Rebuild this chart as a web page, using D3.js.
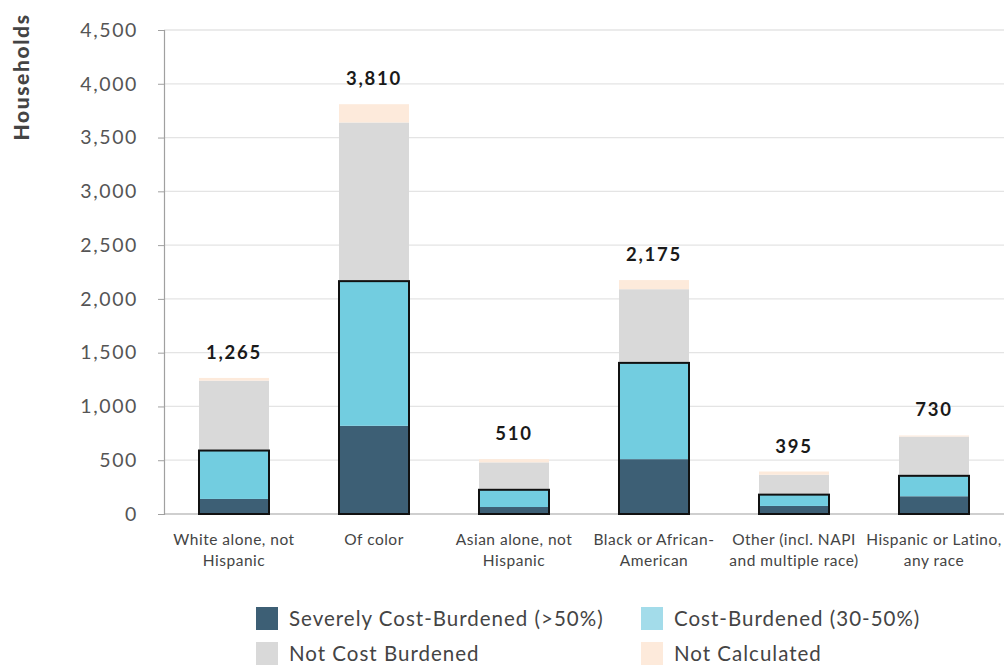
<!DOCTYPE html>
<html>
<head>
<meta charset="utf-8">
<script src="https://cdn.jsdelivr.net/npm/d3@7"></script>
<style>
  html, body { margin: 0; padding: 0; background: #fff; }
  svg { display: block; font-family: "Lato", "Noto Sans", sans-serif; }
</style>
</head>
<body>
<svg id="chart" width="1007" height="669"></svg>
<script>
// Household cost burden by race / ethnicity
const categories = [
  ["White alone, not", "Hispanic"],
  ["Of color"],
  ["Asian alone, not", "Hispanic"],
  ["Black or African-", "American"],
  ["Other (incl. NAPI", "and multiple race)"],
  ["Hispanic or Latino,", "any race"]
];
const severelyBurdened = [140, 820, 65, 510, 75, 165];
const costBurdened     = [450, 1345, 160, 895, 105, 190];
const notBurdened      = [650, 1475, 255, 685, 185, 365];
const notCalculated    = [25, 170, 30, 85, 30, 10];
const totals           = [1265, 3810, 510, 2175, 395, 730];
const seriesNames = ["Severely Cost-Burdened (>50%)", "Cost-Burdened (30-50%)", "Not Cost Burdened", "Not Calculated"];
const yTicks = [0, 500, 1000, 1500, 2000, 2500, 3000, 3500, 4000, 4500];

const colors = ["#3d5f75", "#72cde0", "#d9d9d9", "#fdeadb"];
const legendColors = ["#3d5f75", "#a3dcea", "#d9d9d9", "#fdeadb"];

const svg = d3.select("#chart");
const margin = { left: 164, right: 3, top: 30, bottom: 155 };
const W = 1007, H = 669;

const x = d3.scaleBand()
  .domain(d3.range(categories.length))
  .range([margin.left, W - margin.right])
  .paddingInner(0.5).paddingOuter(0.25);

const y = d3.scaleLinear().domain([0, 4500]).range([H - margin.bottom, margin.top]);

// gridlines
svg.append("g")
  .selectAll("line").data(yTicks.slice(1)).join("line")
  .attr("x1", margin.left).attr("x2", W - margin.right)
  .attr("y1", d => y(d)).attr("y2", d => y(d))
  .attr("stroke", "#e4e4e4").attr("stroke-width", 1.3);

// y axis
const yAxis = svg.append("g")
  .attr("transform", `translate(${margin.left},0)`)
  .call(d3.axisLeft(y).tickValues(yTicks).tickFormat(d3.format(",")).tickSize(6).tickPadding(20));
yAxis.select(".domain").attr("stroke", "#a0a0a0").attr("stroke-width", 1.2);
yAxis.selectAll(".tick line").attr("stroke", "#a0a0a0");
yAxis.selectAll(".tick text")
  .attr("fill", "#555").attr("font-size", 19.5)
  .style("font-family", "Lato, sans-serif").style("letter-spacing", "1.6px");

// baseline
svg.append("line")
  .attr("x1", margin.left).attr("x2", W - margin.right)
  .attr("y1", y(0)).attr("y2", y(0))
  .attr("stroke", "#a0a0a0").attr("stroke-width", 1.2);

// stacked bars
const rows = categories.map((c, i) => ({
  i,
  s0: severelyBurdened[i], s1: costBurdened[i], s2: notBurdened[i], s3: notCalculated[i]
}));
const stack = d3.stack().keys(["s0", "s1", "s2", "s3"]);
const layers = stack(rows);

svg.append("g").selectAll("g").data(layers).join("g")
  .attr("fill", (d, k) => colors[k])
  .selectAll("rect").data(d => d).join("rect")
  .attr("x", d => x(d.data.i))
  .attr("width", x.bandwidth())
  .attr("y", d => y(d[1]))
  .attr("height", d => y(d[0]) - y(d[1]));

// outline around the cost-burdened portion
svg.append("g").selectAll("rect").data(rows).join("rect")
  .attr("x", d => x(d.i))
  .attr("width", x.bandwidth())
  .attr("y", d => y(d.s0 + d.s1))
  .attr("height", d => y(0) - y(d.s0 + d.s1))
  .attr("fill", "none").attr("stroke", "#111").attr("stroke-width", 2);

// totals
svg.append("g").selectAll("text").data(totals).join("text")
  .attr("x", (d, i) => x(i) + x.bandwidth() / 2)
  .attr("y", d => y(d) - 19)
  .attr("text-anchor", "middle")
  .attr("font-size", 18.5).attr("font-weight", "bold").attr("fill", "#1a1a1a")
  .style("letter-spacing", "1.8px")
  .text(d => d3.format(",")(d));

// category labels
const xl = svg.append("g").selectAll("text").data(categories).join("text")
  .attr("x", (d, i) => x(i) + x.bandwidth() / 2)
  .attr("y", 545)
  .attr("text-anchor", "middle")
  .attr("font-size", 15.5).attr("fill", "#444")
  .style("letter-spacing", "0.5px");
xl.selectAll("tspan").data(d => d).join("tspan")
  .attr("x", function () { return this.parentNode.getAttribute("x"); })
  .attr("dy", (d, j) => j === 0 ? 0 : 21)
  .text(d => d);

// y axis title
svg.append("text")
  .attr("transform", "translate(29,77) rotate(-90)")
  .attr("text-anchor", "middle")
  .attr("font-size", 21).attr("font-weight", "900").attr("fill", "#444")
  .style("letter-spacing", "1.6px")
  .text("Households");

// legend
const legendPos = [[256, 607], [641, 607], [256, 642], [641, 642]];
const lg = svg.append("g").selectAll("g").data(seriesNames).join("g")
  .attr("transform", (d, i) => `translate(${legendPos[i][0]},${legendPos[i][1]})`);
lg.append("rect").attr("width", 22).attr("height", 23)
  .attr("fill", (d, i) => legendColors[i]);
lg.append("text").attr("x", 33).attr("y", 19)
  .attr("font-size", 20.5).attr("fill", "#444")
  .style("letter-spacing", "1px")
  .text(d => d);
</script>
</body>
</html>
